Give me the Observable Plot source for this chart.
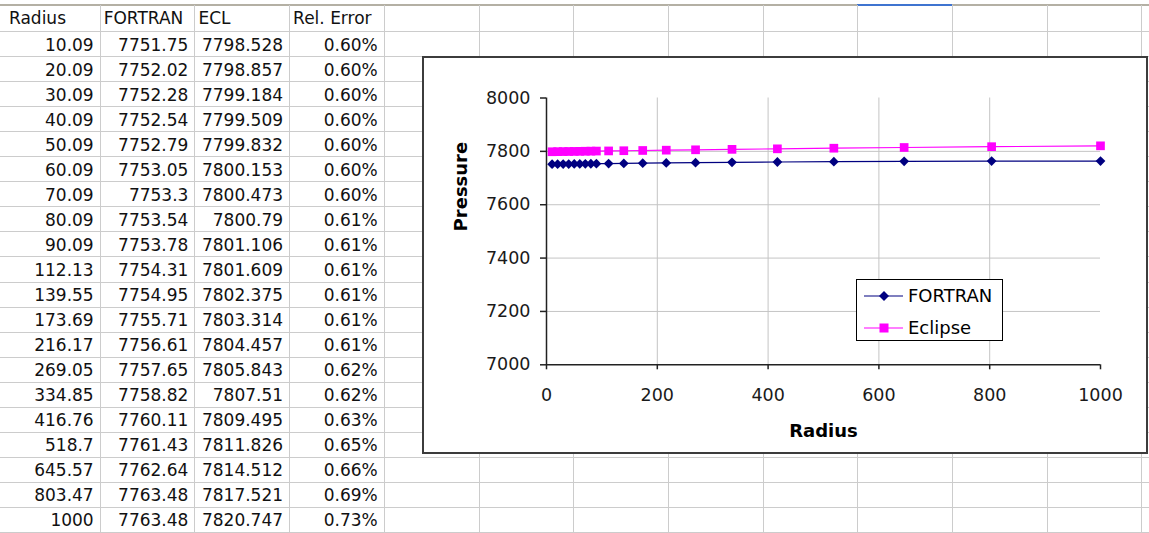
<!DOCTYPE html>
<html><head><meta charset="utf-8">
<script src="https://cdn.jsdelivr.net/npm/d3@7"></script>
<script src="https://cdn.jsdelivr.net/npm/@observablehq/plot@0.6"></script>
<style>
html,body{margin:0;padding:0;background:#fff;}
body{width:1149px;height:533px;position:relative;overflow:hidden;font-family:"DejaVu Sans",sans-serif;}
.hl{position:absolute;height:1px;background:#cccccc;}
.vl{position:absolute;width:1px;background:#cccccc;}
.cell{position:absolute;font-size:17px;line-height:25px;height:25px;white-space:nowrap;color:#111;}
#chart{position:absolute;left:422px;top:56px;width:722px;height:394px;border:2px solid #3c3c3c;background:#fff;}
#chart svg{display:block;}
#legend{position:absolute;left:856px;top:279px;width:145px;height:60px;border:1.5px solid #000;background:#fff;font-size:18px;}
.lrow{position:absolute;left:0;height:24px;line-height:24px;}
.lrow svg{position:absolute;left:7px;top:4px;}
.lrow span{position:absolute;left:51px;top:0;white-space:nowrap;color:#000;}
</style>
</head><body>
<div id="sheet"></div>
<div id="chart"></div>
<script>
// ---- data ----
const headers = ["Radius", "FORTRAN", "ECL", "Rel. Error"];
const radius = [10.09, 20.09, 30.09, 40.09, 50.09, 60.09, 70.09, 80.09, 90.09, 112.13, 139.55, 173.69, 216.17, 269.05, 334.85, 416.76, 518.7, 645.57, 803.47, 1000];
const fortran = [7751.75, 7752.02, 7752.28, 7752.54, 7752.79, 7753.05, 7753.3, 7753.54, 7753.78, 7754.31, 7754.95, 7755.71, 7756.61, 7757.65, 7758.82, 7760.11, 7761.43, 7762.64, 7763.48, 7763.48];
const ecl = [7798.528, 7798.857, 7799.184, 7799.509, 7799.832, 7800.153, 7800.473, 7800.79, 7801.106, 7801.609, 7802.375, 7803.314, 7804.457, 7805.843, 7807.51, 7809.495, 7811.826, 7814.512, 7817.521, 7820.747];
const relError = ["0.60%", "0.60%", "0.60%", "0.60%", "0.60%", "0.60%", "0.60%", "0.61%", "0.61%", "0.61%", "0.61%", "0.61%", "0.61%", "0.62%", "0.62%", "0.63%", "0.65%", "0.66%", "0.69%", "0.73%"];
const seriesNames = ["FORTRAN", "Eclipse"];
const xTicks = [0, 200, 400, 600, 800, 1000];
const yTicks = [7000, 7200, 7400, 7600, 7800, 8000];
const xGrid = [200, 400, 600, 800];
const yGrid = [7200, 7400, 7600, 7800];
const xLabel = "Radius";
const yLabel = "Pressure";

// ---- spreadsheet background ----
const sheet = document.getElementById("sheet");
const colW = 94.7, col0 = 5, rowTop = 31, rowH = 25.05;
function add(cls, styles, text) {
  const d = document.createElement("div");
  d.className = cls;
  Object.assign(d.style, styles);
  if (text != null) d.textContent = text;
  sheet.appendChild(d);
  return d;
}
// top border
add("", {position:"absolute", left:"0px", top:"4px", width:"1149px", height:"2px", background:"#b4b0a4"});
add("", {position:"absolute", left:Math.round(col0 + 9*colW) + "px", top:"4px", width:Math.round(colW) + "px", height:"2px", background:"#3f74d0"});
for (let k = 1; k <= 12; k++) {
  add("vl", {left: Math.round(col0 + k*colW) + "px", top:"5px", height:"528px"});
}
for (let k = 0; k <= 21; k++) {
  add("hl", {left:"0px", width:"1149px", top: Math.round(rowTop + k*rowH) + "px"});
}
// header
headers.forEach((h, j) => {
  add("cell", {left: (col0 + j*colW + 4) + "px", top:"6px"}, h);
});
const cols = [radius.map(String), fortran.map(String), ecl.map(String), relError];
cols.forEach((col, j) => {
  col.forEach((v, i) => {
    add("cell", {left: (col0 + j*colW) + "px", width:(colW - 6) + "px", textAlign:"right", top: (rowTop + i*rowH + 1.5) + "px"}, v);
  });
});

// ---- chart ----
const fData = radius.map((r, i) => ({r, p: fortran[i]}));
const eData = radius.map((r, i) => ({r, p: ecl[i]}));
const navy = "#000080", magenta = "#ff00ff";
const plot = Plot.plot({
  width: 722, height: 394,
  marginLeft: 122, marginRight: 46, marginTop: 39.5, marginBottom: 87.7,
  style: {fontFamily: "DejaVu Sans", fontSize: "17.5px", color: "#1a1a1a", background: "#fff", overflow: "visible"},
  x: {domain: [0, 1000]},
  y: {domain: [7000, 8000]},
  marks: [
    Plot.ruleX(xGrid, {stroke: "#c4c4c4", strokeWidth: 1}),
    Plot.ruleY(yGrid, {stroke: "#c4c4c4", strokeWidth: 1}),
    Plot.axisY({ticks: yTicks, tickSize: 6, tickPadding: 10, tickFormat: d => String(d), label: null, stroke: "#222", strokeWidth: 1.5}),
    Plot.axisX({ticks: xTicks, tickSize: 5, tickPadding: 18.5, tickFormat: d => String(d), label: null, stroke: "#222", strokeWidth: 1.5}),
    Plot.ruleY([7000], {stroke: "#222", strokeWidth: 1.5}),
    Plot.ruleX([0], {stroke: "#222", strokeWidth: 1.5}),
    Plot.line(fData, {x: "r", y: "p", stroke: navy, strokeWidth: 1.2}),
    Plot.dot(fData, {x: "r", y: "p", symbol: "diamond2", r: 4.4, fill: navy, stroke: "none"}),
    Plot.line(eData, {x: "r", y: "p", stroke: magenta, strokeWidth: 1.2}),
    Plot.dot(eData, {x: "r", y: "p", symbol: "square", r: 4.9, fill: magenta, stroke: "none"}),
    Plot.text([xLabel], {frameAnchor: "bottom", dy: 72, fontWeight: "bold", fontSize: 18, fill: "#000"}),
    Plot.text([yLabel], {frameAnchor: "left", dx: -85, rotate: -90, fontWeight: "bold", fontSize: 18, fill: "#000"})
  ]
});
document.getElementById("chart").appendChild(plot);

// ---- legend ----
const legend = document.createElement("div");
legend.id = "legend";
const glyphs = [
  `<svg width="40" height="16"><line x1="0" y1="8" x2="39" y2="8" stroke="${navy}" stroke-width="1.2"/><path d="M20,3L25,8L20,13L15,8Z" fill="${navy}"/></svg>`,
  `<svg width="40" height="16"><line x1="0" y1="8" x2="39" y2="8" stroke="${magenta}" stroke-width="1.2"/><rect x="15.5" y="3.5" width="9" height="9" fill="${magenta}"/></svg>`
];
seriesNames.forEach((name, i) => {
  const row = document.createElement("div");
  row.className = "lrow";
  row.style.top = (4 + i*32) + "px";
  row.innerHTML = glyphs[i] + `<span>${name}</span>`;
  legend.appendChild(row);
});
document.body.appendChild(legend);
</script>
</body></html>
